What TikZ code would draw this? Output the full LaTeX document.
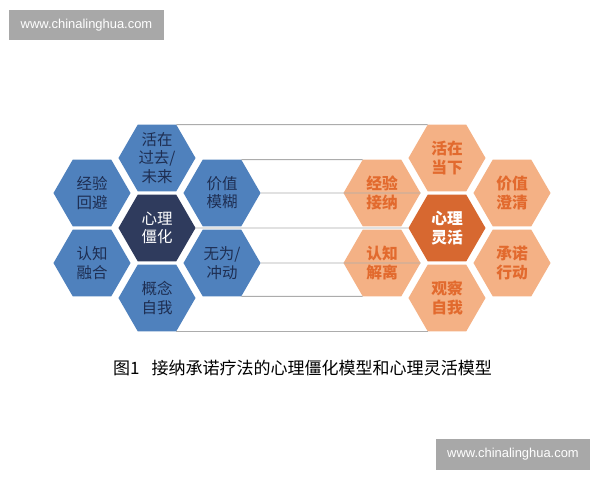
\documentclass[tikz,border=0pt]{standalone}
\usepackage{fontspec}
\setmainfont{Noto Sans CJK SC}
\newfontfamily\webfont{Liberation Sans}
\usetikzlibrary{shapes.geometric}
\definecolor{hexblue}{RGB}{79,129,189}
\definecolor{hexnavy}{RGB}{47,59,93}
\definecolor{txtnavy}{RGB}{30,46,82}
\definecolor{hexpeach}{RGB}{244,177,133}
\definecolor{hexorange}{RGB}{215,104,48}
\definecolor{txtorange}{RGB}{226,106,46}
\definecolor{markgray}{RGB}{168,168,168}

\begin{document}
\begin{tikzpicture}[x=0.025cm,y=-0.025cm,
 hexa/.style={regular polygon,regular polygon sides=6,minimum size=1.925cm,inner sep=-6pt,outer sep=0pt,align=center,font=\fontsize{11}{13}\selectfont},
 rigid/.style={hexa,fill=hexblue,text=txtnavy},
 rigidcore/.style={hexa,fill=hexnavy,text=white},
 flex/.style={hexa,fill=hexpeach,text=txtorange,font=\fontsize{11.2}{14}\selectfont\bfseries},
 flexcore/.style={hexa,fill=hexorange,text=white,font=\fontsize{11.2}{14}\selectfont\bfseries},
 link/.style={draw=gray!65,line width=0.7pt},
 webmark/.style={fill=markgray,text=white,font=\webfont\fontsize{9.2}{11}\selectfont,inner sep=0pt,minimum width=3.85cm,minimum height=0.75cm}]
 \useasboundingbox[fill=white] (0,0) rectangle (600,480);
 \node[webmark] (webtop) at (86.5,25) {www.chinalinghua.com};
 \node[webmark] (webbot) at (513,454.5) {www.chinalinghua.com};

 \node[rigidcore] (lC) at (157,228) {心理\\僵化};
 \node[rigid] (lT) at (157,158) {活在\\过去/\\未来};
 \node[rigid] (lUL) at (92,193) {经验\\回避};
 \node[rigid] (lUR) at (222,193) {价值\\模糊};
 \node[rigid] (lLL) at (92,263) {认知\\融合};
 \node[rigid] (lLR) at (222,263) {无为/\\冲动};
 \node[rigid] (lB) at (157,298) {概念\\自我};

 \node[flexcore] (rC) at (447,228) {心理\\灵活};
 \node[flex] (rT) at (447,158) {活在\\当下};
 \node[flex] (rUL) at (382,193) {经验\\接纳};
 \node[flex] (rUR) at (512,193) {价值\\澄清};
 \node[flex] (rLL) at (382,263) {认知\\解离};
 \node[flex] (rLR) at (512,263) {承诺\\行动};
 \node[flex] (rB) at (447,298) {观察\\自我};

 \draw[link] (lT.60) -- (rT.120);
 \draw[link] (lUR.60) -- (rUL.120);
 \draw[link] (lUR.0) -- (rUL.0);
 \draw[link] (lC.0) -- (rC.180);
 \draw[link] (lLR.0) -- (rLL.0);
 \draw[link] (lLR.300) -- (rLL.240);
 \draw[link] (lB.300) -- (rB.240);

 \node[font=\fontsize{12.1}{14}\selectfont] (caption) at (302.5,368) {图1\hspace{0.7em}接纳承诺疗法的心理僵化模型和心理灵活模型};
\end{tikzpicture}
\end{document}
